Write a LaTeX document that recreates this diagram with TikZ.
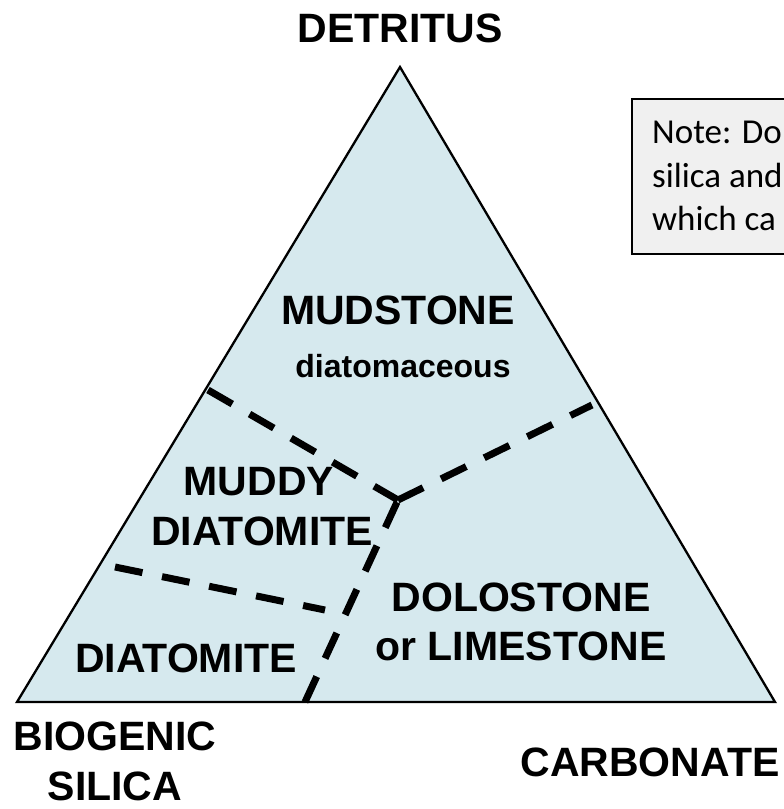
\documentclass[tikz,border=0pt]{standalone}
\usepackage{fontspec}
\setmainfont{Liberation Sans}
\newfontfamily\notefont{Carlito}
\definecolor{triFill}{RGB}{214,233,238}
\definecolor{noteFill}{RGB}{240,240,240}
\begin{document}
\begin{tikzpicture}[x=1pt,y=-1pt,
  lbl/.style={font=\bfseries\fontsize{41}{49}\selectfont, inner sep=0pt},
  sublbl/.style={font=\bfseries\fontsize{32}{38}\selectfont, inner sep=0pt},
  notetext/.style={font=\notefont\fontsize{35}{43}\selectfont, inner sep=0pt, anchor=base west},
  divider/.style={line width=7pt, dash pattern=on 28pt off 20pt},
  outline/.style={line width=2.3pt, line join=miter}]
\useasboundingbox (0,0) rectangle (784,809);
\fill[white] (0,0) rectangle (784,809);

% triangle
\coordinate (apex) at (400,67);
\coordinate (bl) at (17,702);
\coordinate (br) at (775,702);
\draw[outline, fill=triFill] (apex) -- (bl) -- (br) -- cycle;

% dividers
\coordinate (j) at (398,500);
\coordinate (ul) at (208,390);
\coordinate (ur) at (592,405);
\coordinate (bot) at (305,702);
\coordinate (ll) at (115,567);
\coordinate (lr) at (325,610);
\draw[divider] (ul) -- (j);
\draw[divider] (j) -- (ur);
\draw[divider] (bot) -- (j);
\draw[divider] (ll) -- (lr);

% labels
\node[lbl] (detritus) at (400,28) {DETRITUS};
\node[lbl] (mudstone) at (398,310) {MUDSTONE};
\node[sublbl] (diat) at (403,366) {diatomaceous};
\node[lbl] (muddy) at (259,482) {MUDDY};
\node[lbl] (mdiat) at (262,531) {DIATOMITE};
\node[lbl] (diatomite) at (186,658) {DIATOMITE};
\node[lbl] (dolo) at (521,597) {DOLOSTONE};
\node[lbl] (lime) at (521,646) {or LIMESTONE};
\node[lbl] (biogenic) at (115,736) {BIOGENIC};
\node[lbl] (silica) at (115,786) {SILICA};
\node[lbl] (carb) at (650,762) {CARBONATE};

% note box (cut off at the right edge)
\begin{scope}
\clip (0,0) rectangle (784,809);
\node[draw, line width=2pt, fill=noteFill, anchor=north west, minimum width=220pt, minimum height=155pt, inner sep=0pt] (notebox) at (631,98) {};
\node[notetext] (n1) at (652,143) {Note: Do};
\node[notetext] (n2) at (652,187) {silica and};
\node[notetext] (n3) at (652,230) {which ca};
\end{scope}
\end{tikzpicture}
\end{document}
